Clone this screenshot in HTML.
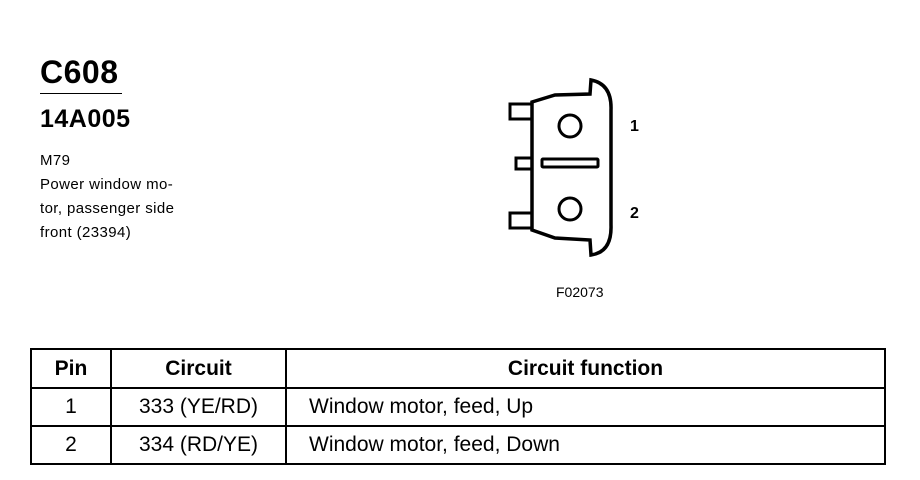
<!DOCTYPE html>
<html><head><style>
body{margin:0;width:920px;height:480px;background:#fff;font-family:"Liberation Sans",sans-serif;color:#000;position:relative;overflow:hidden}
.a{position:absolute;white-space:nowrap}
table{position:absolute;left:30px;top:348px;width:856px;border-collapse:collapse;font-size:21px}
td{border:2px solid #000;padding:0;height:36px}
</style></head><body>
<div class="a" style="left:40px;top:54px;font-size:32px;font-weight:bold;letter-spacing:0.5px">C608</div>
<div class="a" style="left:40px;top:93px;width:82px;border-top:1.5px solid #000"></div>
<div class="a" style="left:40px;top:105px;font-size:25px;font-weight:bold;letter-spacing:0.5px">14A005</div>
<div class="a" style="left:40px;top:149px;font-size:15px;line-height:24px;letter-spacing:0.4px">M79<br>Power window mo-<br>tor, passenger side<br>front (23394)</div>
<svg class="a" style="left:0;top:0" width="920" height="330">
<g fill="none" stroke="#000" stroke-width="3.5">
<path d="M532 102 L555 95 L590 94 L591 80 Q612 84 611 110 L611 225 Q612 252 591 255 L590 240 L555 238 L532 230 Z"/>
<rect x="510" y="104" width="22" height="15" stroke-width="3"/>
<rect x="516" y="158" width="16" height="11" stroke-width="3"/>
<rect x="510" y="213" width="22" height="15" stroke-width="3"/>
<circle cx="570" cy="126" r="11" stroke-width="3"/>
<circle cx="570" cy="209" r="11" stroke-width="3"/>
<rect x="542" y="159" width="56" height="8" rx="1" stroke-width="3"/>
</g>
<text x="630" y="131" font-size="16" font-weight="bold" font-family="Liberation Sans">1</text>
<text x="630" y="218" font-size="16" font-weight="bold" font-family="Liberation Sans">2</text>
<text x="556" y="297" font-size="14" font-family="Liberation Sans">F02073</text>
</svg>
<table>
<tr style="font-weight:bold;height:39px"><td style="width:78px;text-align:center">Pin</td><td style="width:173px;text-align:center">Circuit</td><td style="text-align:center">Circuit function</td></tr>
<tr><td style="text-align:center">1</td><td style="text-align:center">333 (YE/RD)</td><td style="padding-left:22px">Window motor, feed, Up</td></tr>
<tr><td style="text-align:center">2</td><td style="text-align:center">334 (RD/YE)</td><td style="padding-left:22px">Window motor, feed, Down</td></tr>
</table>
</body></html>
